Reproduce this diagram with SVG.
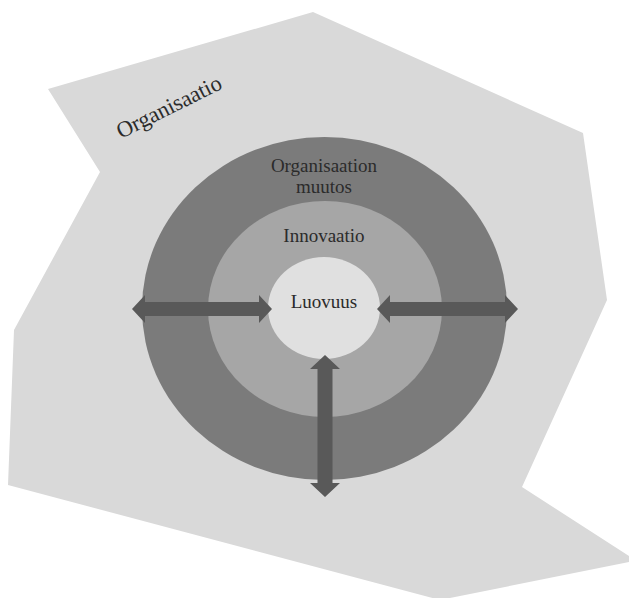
<svg xmlns="http://www.w3.org/2000/svg" width="629" height="598" viewBox="0 0 629 598">
<style>
.lbl{font-family:"Liberation Serif","Times New Roman",serif;font-size:19px;fill:#2b2b2b;text-anchor:middle}
.arrow{fill:#595959}
</style>
<rect width="629" height="598" fill="#ffffff"/>
<g id="organisaatio">
<polygon points="48,89 313,12 583,133 607,300 522,487 629,556 629,562 440,600 8,485 14,330 100,172" fill="#d9d9d9"/>
<text class="lbl" style="text-anchor:start;font-size:22.5px" transform="translate(121,139) rotate(-26.5)">Organisaatio</text>
</g>
<g id="muutos">
<ellipse cx="324.5" cy="308.5" rx="182.5" ry="171.5" fill="#7b7b7b"/>
<text class="lbl" x="324" y="172">Organisaation</text>
<text class="lbl" x="324" y="193">muutos</text>
</g>
<g id="innovaatio">
<ellipse cx="325" cy="309" rx="117" ry="108" fill="#a6a6a6"/>
<text class="lbl" x="324" y="242">Innovaatio</text>
</g>
<g id="luovuus">
<ellipse cx="324" cy="308" rx="56" ry="51" fill="#e0e0e0"/>
<text class="lbl" x="324" y="308">Luovuus</text>
</g>
<g id="connectors">
<path class="arrow" d="M132,309 L145,295 L145,302 L259,302 L259,295 L272,309 L259,323 L259,316 L145,316 L145,323 Z"/>
<path class="arrow" d="M377,309 L390,295 L390,302 L505,302 L505,295 L518,309 L505,323 L505,316 L390,316 L390,323 Z"/>
<path class="arrow" d="M325,355 L340,369 L332.5,369 L332.5,483 L340,483 L325,497 L310,483 L317.5,483 L317.5,369 L310,369 Z"/>
</g>
</svg>
